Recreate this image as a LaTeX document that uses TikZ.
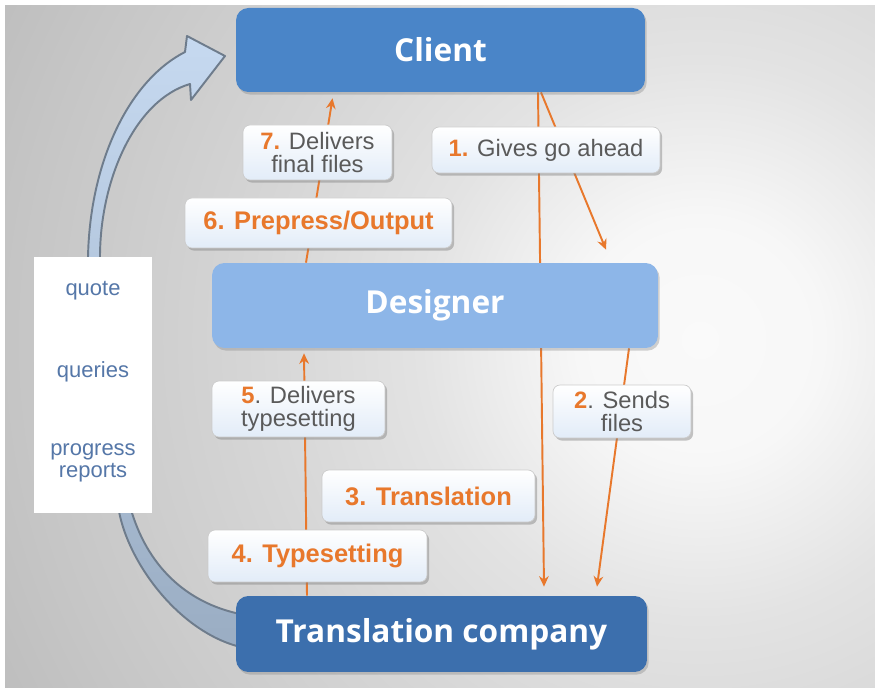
\documentclass[tikz,border=0pt]{standalone}
\usepackage{fontspec}
\setmainfont{Liberation Sans}
\newfontfamily\headfont{Open Sans}
\usetikzlibrary{arrows.meta,calc,shadows}
\definecolor{flow}{HTML}{E8782C}
\definecolor{txtgray}{HTML}{5A5A5A}
\definecolor{clientblue}{HTML}{4A85C8}
\definecolor{designblue}{HTML}{8DB6E8}
\definecolor{companyblue}{HTML}{3C6FAD}
\definecolor{notetext}{HTML}{5577A8}
\definecolor{tagblue}{HTML}{E2ECF8}
\definecolor{bandtop}{HTML}{C6D9F0}
\definecolor{bandbot}{HTML}{9AADC3}
\definecolor{bandline}{HTML}{6E7C8C}
\pgfdeclareradialshading{backdrop}{\pgfpoint{0bp}{0bp}}{color(0bp)=(gray!4); color(3bp)=(gray!6); color(7bp)=(gray!22); color(11bp)=(gray!32); color(17bp)=(gray!45); color(25bp)=(gray!64); color(32bp)=(gray!72); color(50bp)=(gray!75)}
\pgfdeclarelayer{back}
\pgfdeclarelayer{links}
\pgfsetlayers{back,links,main}

\begin{document}
\begin{tikzpicture}[x=0.02cm,y=-0.02cm,>={Stealth[length=6pt,width=5.5pt]},
    party/.style={rounded corners=7pt, inner sep=0pt, text=white,
      font=\headfont\bfseries\fontsize{18}{20}\selectfont,
      drop shadow={shadow xshift=1pt,shadow yshift=-1.5pt,opacity=.35}},
    tag/.style={rounded corners=4pt, inner sep=0pt, align=center, draw=gray!40,
      top color=white, bottom color=tagblue, text=txtgray,
      font=\fontsize{13.5}{13}\selectfont,
      drop shadow={shadow xshift=1.2pt,shadow yshift=-1.5pt,opacity=.45}},
    stage/.style={tag, text=flow, font=\bfseries\fontsize{14.5}{16}\selectfont},
    flowline/.style={flow, line width=1.1pt, ->},
    note/.style={text=notetext, align=center, font=\fontsize{12.5}{12.5}\selectfont}
  ]
  \useasboundingbox (0,0) rectangle (875,688);

  % the three parties
  \node (client) [party, fill=clientblue, minimum width=8.18cm, minimum height=1.68cm] at (440.5,50) {Client};
  \node (designer) [party, fill=designblue, minimum width=8.92cm, minimum height=1.7cm] at (435,305.5) {Designer};
  \node (company) [party, fill=companyblue, minimum width=8.22cm, minimum height=1.52cm] at (441.5,634) {Translation company};

  % steps
  \node (finalfiles) [tag, minimum width=2.98cm, minimum height=1.1cm] at (317.5,152.5)
    {\textcolor{flow}{\textbf{7.}} Delivers\\final files};
  \node (goahead) [tag, minimum width=4.56cm, minimum height=.92cm] at (546,150)
    {\textcolor{flow}{\textbf{1.}} Gives go ahead};
  \node (prepress) [stage, minimum width=5.34cm, minimum height=1cm] at (318.5,223) {6. Prepress/Output};
  \node (delivtype) [tag, minimum width=3.46cm, minimum height=1.12cm] at (298.5,409)
    {\textcolor{flow}{\textbf{5}}. Delivers\\typesetting};
  \node (sendfiles) [tag, minimum width=2.76cm, minimum height=1.06cm] at (622,411.5)
    {\textcolor{flow}{\textbf{2}}. Sends\\files};
  \node (translation) [stage, minimum width=4.26cm, minimum height=1.04cm] at (428.5,496) {3. Translation};
  \node (typesetting) [stage, minimum width=4.38cm, minimum height=1.04cm] at (317.5,556) {4. Typesetting};

  % side panel
  \node (panel) [fill=white, inner sep=0pt, minimum width=2.36cm, minimum height=5.12cm] at (93,385) {};
  \node (quote) [note] at (93,291) {quote};
  \node (queries) [note] at (93,372) {queries};
  \node (reports) [note] at (93,463) {progress\\reports};

  \begin{pgfonlayer}{back}
    \fill[white] (0,0) rectangle (875,688);
    \begin{scope}
      \clip (5,6) rectangle (875,688);
      \shade[shading=backdrop] (700,340) circle (1000);
    \end{scope}
    % big return arrow
    \shade[draw=bandline, line width=1.1pt, top color=bandtop, bottom color=bandbot, line join=round]
      (245,648) .. controls (180,635) and (125,560) .. (118,505)
      .. controls (100,420) and (85,320) .. (88,257)
      .. controls (90,160) and (130,80) .. (185,52)
      -- (187,36) -- (225,56) -- (191,100) -- (190,84)
      .. controls (135,100) and (100,180) .. (100,257)
      .. controls (100,330) and (115,440) .. (132,513)
      .. controls (150,570) and (190,605) .. (245,615) -- cycle;
  \end{pgfonlayer}

  \begin{pgfonlayer}{links}
    \draw[flowline] ($(client.south)+(97.5,0)$) -- ($(company.north)+(102.5,-9)$);
    \draw[flowline] ($(client.south)+(100.5,0)$) -- ($(designer.north)+(171,-13)$);
    \draw[flowline] ($(designer.south)+(194,0)$) -- ($(company.north)+(155.5,-9)$);
    \draw[flowline] ($(company.north)+(-134.5,0)$) -- ($(designer.south)+(-131,5)$);
    \draw[flowline] ($(designer.north)+(-129,0)$) -- ($(client.south)+(-108,6)$);
  \end{pgfonlayer}
\end{tikzpicture}
\end{document}
